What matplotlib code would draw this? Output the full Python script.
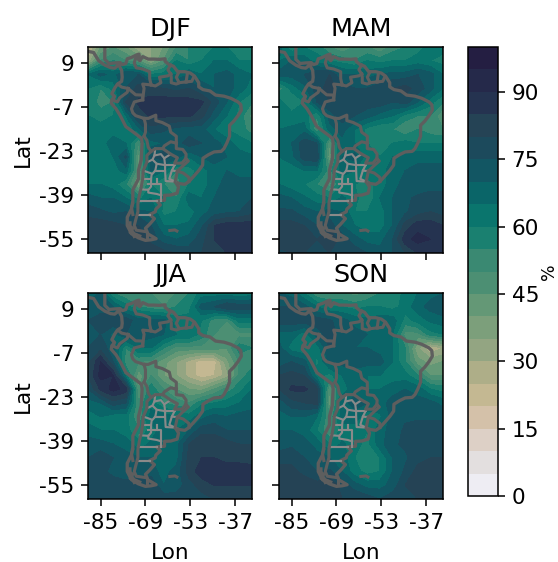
import numpy as np
from matplotlib import pyplot as plt

plt.rcParams['axes.unicode_minus'] = False
plt.rcParams['font.size'] = 11.2
plt.rcParams['axes.titlesize'] = 13.2

lons = [-89.5, -85, -80.5, -76, -71.5, -67, -62.5, -58, -53.5, -49, -44.5, -40, -35.5, -31]
lats = [15, 10, 5, 0, -5, -10, -15, -20, -25, -30, -35, -40, -45, -50, -55, -60]

djf = [
    [22, 40, 45, 40, 30, 35, 40, 50, 55, 60, 60, 60, 60, 60],
    [30, 50, 55, 50, 45, 35, 45, 60, 55, 60, 65, 65, 60, 60],
    [65, 72, 68, 75, 75, 60, 62, 65, 70, 65, 70, 72, 68, 65],
    [60, 55, 62, 75, 82, 82, 80, 78, 80, 75, 70, 72, 68, 62],
    [60, 52, 55, 80, 86, 87, 88, 88, 87, 86, 78, 70, 60, 55],
    [60, 58, 60, 65, 82, 86, 86, 86, 86, 82, 72, 65, 58, 48],
    [62, 62, 62, 60, 68, 78, 76, 73, 72, 72, 65, 60, 58, 52],
    [65, 62, 68, 65, 50, 68, 70, 72, 78, 75, 72, 68, 62, 60],
    [65, 62, 65, 76, 42, 75, 78, 72, 65, 70, 72, 70, 68, 66],
    [62, 62, 62, 68, 45, 70, 65, 55, 58, 62, 68, 70, 68, 68],
    [65, 65, 62, 55, 38, 60, 55, 52, 60, 62, 68, 72, 72, 72],
    [72, 70, 70, 65, 58, 65, 60, 55, 68, 65, 70, 72, 72, 75],
    [78, 76, 74, 75, 72, 70, 58, 60, 62, 68, 72, 74, 75, 78],
    [83, 83, 82, 80, 80, 75, 65, 65, 66, 74, 85, 88, 88, 88],
    [84, 84, 84, 82, 85, 78, 72, 70, 72, 78, 85, 90, 90, 88],
    [84, 84, 84, 84, 84, 84, 82, 80, 78, 80, 85, 85, 85, 85],
]
mam = [
    [68, 55, 60, 58, 50, 45, 50, 50, 45, 52, 55, 58, 62, 62],
    [65, 70, 68, 62, 60, 58, 55, 60, 58, 60, 60, 62, 60, 58],
    [72, 72, 75, 80, 80, 70, 70, 68, 70, 72, 72, 75, 72, 65],
    [52, 62, 68, 78, 82, 78, 75, 75, 78, 80, 82, 78, 72, 65],
    [62, 55, 60, 75, 80, 78, 78, 78, 78, 75, 78, 70, 62, 55],
    [62, 62, 62, 55, 72, 78, 75, 72, 68, 65, 58, 55, 55, 45],
    [65, 66, 68, 50, 68, 72, 65, 58, 55, 55, 50, 55, 52, 50],
    [66, 70, 78, 75, 45, 68, 65, 60, 58, 60, 62, 60, 60, 60],
    [65, 68, 78, 80, 40, 70, 72, 62, 60, 65, 66, 68, 68, 68],
    [62, 62, 65, 65, 52, 68, 65, 62, 62, 68, 70, 72, 72, 72],
    [65, 62, 60, 55, 48, 60, 60, 58, 62, 68, 72, 72, 72, 72],
    [72, 70, 66, 62, 60, 66, 62, 55, 65, 70, 74, 76, 78, 78],
    [76, 76, 72, 70, 72, 70, 60, 60, 62, 70, 74, 78, 80, 78],
    [82, 82, 80, 75, 78, 70, 65, 62, 62, 70, 82, 88, 88, 85],
    [84, 84, 84, 80, 84, 78, 72, 68, 68, 75, 88, 92, 90, 88],
    [78, 80, 80, 80, 80, 78, 78, 75, 72, 75, 80, 85, 85, 85],
]
jja = [
    [68, 70, 55, 50, 55, 50, 48, 50, 55, 62, 62, 62, 60, 62],
    [72, 72, 70, 62, 55, 52, 50, 55, 58, 72, 75, 80, 78, 78],
    [75, 78, 80, 78, 72, 72, 72, 62, 62, 60, 52, 50, 62, 62],
    [72, 75, 68, 75, 75, 72, 70, 65, 65, 58, 50, 48, 48, 48],
    [75, 78, 72, 55, 65, 65, 55, 48, 48, 48, 48, 45, 58, 55],
    [78, 90, 75, 52, 50, 48, 42, 35, 28, 22, 22, 38, 50, 52],
    [80, 92, 90, 62, 42, 50, 40, 35, 28, 22, 25, 32, 52, 58],
    [75, 86, 92, 88, 45, 58, 50, 45, 40, 38, 45, 52, 58, 65],
    [68, 70, 78, 75, 50, 62, 55, 52, 50, 58, 60, 62, 65, 68],
    [62, 65, 62, 62, 50, 68, 68, 65, 62, 68, 72, 70, 72, 72],
    [68, 65, 65, 62, 55, 62, 68, 65, 70, 78, 78, 75, 75, 75],
    [72, 72, 70, 68, 62, 66, 68, 68, 80, 85, 85, 82, 80, 80],
    [75, 78, 75, 72, 70, 70, 65, 68, 82, 85, 85, 82, 82, 82],
    [78, 78, 72, 70, 72, 72, 68, 72, 82, 88, 88, 90, 90, 88],
    [80, 80, 80, 78, 80, 80, 70, 72, 78, 82, 85, 85, 85, 85],
    [80, 80, 80, 80, 80, 80, 78, 78, 78, 78, 80, 80, 82, 82],
]
son = [
    [70, 68, 60, 50, 50, 50, 48, 50, 55, 55, 62, 65, 68, 70],
    [75, 75, 72, 65, 60, 60, 58, 60, 60, 58, 62, 68, 72, 74],
    [78, 78, 78, 78, 76, 72, 68, 66, 68, 68, 58, 62, 66, 68],
    [68, 68, 62, 72, 78, 72, 72, 70, 70, 65, 48, 48, 58, 60],
    [72, 62, 60, 62, 75, 70, 70, 70, 68, 65, 55, 35, 25, 30],
    [72, 75, 72, 58, 72, 72, 72, 72, 72, 65, 55, 42, 38, 40],
    [80, 82, 80, 62, 58, 65, 68, 65, 65, 62, 62, 55, 45, 45],
    [80, 86, 86, 82, 45, 62, 68, 65, 65, 68, 70, 68, 60, 58],
    [72, 78, 80, 82, 42, 68, 72, 70, 68, 72, 74, 72, 72, 68],
    [68, 70, 70, 65, 50, 68, 68, 62, 64, 72, 74, 74, 74, 74],
    [70, 70, 68, 60, 50, 62, 62, 60, 68, 72, 76, 78, 78, 78],
    [72, 74, 72, 68, 60, 66, 62, 58, 68, 74, 76, 78, 78, 80],
    [78, 78, 75, 72, 70, 68, 60, 55, 60, 70, 74, 78, 80, 80],
    [82, 82, 78, 75, 76, 70, 62, 58, 60, 70, 76, 82, 85, 85],
    [84, 84, 84, 82, 84, 78, 72, 68, 68, 72, 80, 85, 85, 82],
    [82, 82, 82, 80, 82, 80, 80, 78, 75, 78, 80, 80, 82, 82],
]
seasons = ['DJF', 'MAM', 'JJA', 'SON']
fields = [djf, mam, jja, son]

levels = list(range(0, 105, 5))
colors = ['#eeedf3', '#e3dfdf', '#ddd0c6', '#d4c1a9', '#c4b892', '#aeae88', '#93a582',
          '#7c9f7b', '#649876', '#4c8f73', '#3a8972', '#1a8070', '#0a756d', '#0a6568',
          '#125663', '#1c4a5c', '#254355', '#253350', '#25294a', '#241e42']

xticks = [-85, -69, -53, -37]
yticks = [9, -7, -23, -39, -55]
cbar_ticks = [0, 15, 30, 45, 60, 75, 90]

# coast and borders, rough lon/lat
coast = [(-89.5, 13.4), (-87.5, 13), (-85.7, 10), (-83.5, 8.4), (-81.5, 7.5), (-80, 7.3), (-78.5, 8.5),
         (-77.9, 7.2), (-77.5, 6.5), (-77.3, 4), (-77.5, 2.5), (-79, 1.5), (-80, 0), (-81, -2), (-80, -3),
         (-81, -4.2), (-81.2, -5.5), (-79.5, -7.5), (-78, -10), (-76, -14), (-72, -17), (-70.4, -18.3),
         (-70.2, -20), (-70.5, -26), (-71.5, -30), (-71.5, -33), (-73.5, -37), (-73.5, -41), (-74, -44),
         (-75.5, -47), (-75.5, -50), (-74, -53), (-71.5, -54.5), (-69, -55.4), (-67, -55.2), (-65.2, -54.8),
         (-68.2, -53), (-68.4, -52.3), (-69, -51), (-67.5, -49.5), (-65.8, -47.5), (-67.5, -46), (-65.5, -45),
         (-65.3, -44), (-63.7, -42.5), (-65, -41), (-62.2, -40.8), (-62.2, -39), (-60, -38.9), (-57.7, -38.2),
         (-57.2, -36), (-58.4, -34), (-57, -34.7), (-55, -35), (-53.5, -34), (-52, -32.3), (-50, -30),
         (-48.6, -28), (-48.5, -25.5), (-46.5, -24.2), (-44.5, -23.2), (-42, -23), (-41, -22), (-40, -20),
         (-39, -17.5), (-39, -13.5), (-37.5, -12), (-36, -10), (-34.8, -8), (-35, -6), (-36, -5), (-38.5, -3.7),
         (-41, -2.9), (-44, -2.5), (-46, -1), (-48.5, -0.5), (-50, 0.5), (-50, 2), (-51.5, 4.4), (-53, 5.5),
         (-55, 6), (-57.5, 6), (-59, 8), (-60.5, 8.5), (-62, 9.8), (-62, 10.7), (-64, 10.5), (-66, 10.6),
         (-68, 10.6), (-70, 11.5), (-71, 10), (-71.8, 10.8), (-71.5, 11), (-71.3, 12.4), (-72, 12.2),
         (-74, 11.2), (-75.5, 10.7), (-76, 9), (-77.2, 8.6), (-78, 9.3), (-80, 9.2), (-82, 9), (-83.5, 10.5),
         (-83.5, 12), (-83.5, 15)]
borders = [
    [(-67, -23), (-68.5, -24.5), (-68.5, -27), (-69.8, -30), (-70, -33), (-70.5, -36), (-71.2, -39), (-71.7, -42),
     (-71.7, -45), (-72.5, -48), (-73, -50), (-72.3, -51.7), (-69, -52.2)],
    [(-68.6, -52.6), (-68.6, -54.9)],
    [(-69.5, -17.5), (-68.5, -19), (-68, -21.5), (-67, -23)],
    [(-67, -23), (-65.5, -22), (-62.8, -22), (-62.3, -21), (-60, -19.5), (-58, -20)],
    [(-58, -20), (-58, -17.5), (-60, -16), (-60.5, -13.8), (-63, -12.5), (-65.3, -11.8), (-65.3, -9.8), (-68, -11),
     (-69.5, -11)],
    [(-69.5, -11), (-69, -13), (-69, -16), (-69.5, -17.5)],
    [(-69.5, -11), (-72.5, -10), (-73.5, -9), (-74, -7.5), (-73, -5), (-70, -4.2)],
    [(-70, -4.2), (-70, -2.5), (-72.5, -2.4), (-75.2, -0.1)],
    [(-75.2, -0.1), (-77.5, 0.4), (-78.8, 1.4)],
    [(-75.2, -0.1), (-75.5, -1.5), (-78.2, -3.5), (-79, -5), (-80.3, -4.5), (-80.3, -3.4)],
    [(-70, -4.2), (-69.5, 0), (-70, 1.5), (-67, 1.2)],
    [(-67, 1.2), (-67.5, 3.5), (-67.5, 6), (-70, 7), (-72.3, 7.4), (-73, 9.2), (-72.5, 11), (-71.3, 11.8)],
    [(-67, 1.2), (-65.5, 0.8), (-63.5, 2), (-64, 4), (-61, 4.5), (-60, 5.2)],
    [(-60, 5.2), (-61, 6.7), (-60, 8.5)],
    [(-60, 5.2), (-59.8, 4), (-59.8, 2), (-58, 1.5), (-57, 2)],
    [(-57, 2), (-58, 4), (-57, 6)],
    [(-57, 2), (-54.5, 2.3)],
    [(-54.5, 2.3), (-54, 5.7)],
    [(-54.5, 2.3), (-52.5, 2.5), (-51.7, 4.2)],
    [(-58, -20), (-58, -22), (-55.7, -22.3), (-54.5, -24), (-54.6, -25.6)],
    [(-62.8, -22), (-60, -24), (-57.6, -25.3), (-58.6, -27.3), (-56, -27.3), (-54.6, -25.6)],
    [(-54.6, -25.6), (-53.7, -26.5), (-55.7, -28.3), (-57.6, -30.2)],
    [(-57.6, -30.2), (-55.5, -30.9), (-53.5, -32.5), (-53.5, -34)],
    [(-57.6, -30.2), (-58.2, -33), (-58.4, -34)],
    [(-60.3, -51.8), (-58.5, -51.6), (-57.8, -52)],
    [(-74.5, -49), (-74.5, -51), (-73, -53), (-71, -53.8)],
    [(-75, -50), (-73.5, -51), (-74.5, -52.5), (-72, -53.5), (-73, -54)],
    [(-73.5, -42), (-74, -43.5), (-73.5, -46)],
]
provinces = [
    [(-65.5, -22), (-65.8, -24.5), (-66.5, -26), (-68.5, -27)],
    [(-65.8, -24.5), (-63.5, -24), (-62.3, -25.5), (-60, -24)],
    [(-66.5, -26), (-65, -27.5), (-65.5, -30), (-66.8, -31.5), (-67, -33), (-67, -35.8), (-68, -37), (-71, -36.8)],
    [(-65, -27.5), (-62, -28), (-62, -30), (-61.8, -33.8), (-58.4, -34)],
    [(-62.3, -25.5), (-62, -28)],
    [(-62, -28), (-58.6, -28), (-58.6, -27.3)],
    [(-58.6, -28), (-59.6, -30), (-57.6, -30.2)],
    [(-59.6, -30), (-60.5, -33), (-58.4, -34)],
    [(-65.5, -30), (-62, -30)],
    [(-65, -33), (-65, -35), (-63.4, -35), (-63.4, -41)],
    [(-69.8, -30), (-67, -31)],
    [(-70, -33), (-67, -33)],
    [(-68, -35), (-65, -35)],
    [(-68, -37), (-68, -38), (-65, -38.5), (-63.4, -39)],
    [(-71.5, -41), (-65, -41)],
    [(-71.7, -46), (-67.5, -46)],
]

W = 558
H = 562
fig = plt.figure(figsize=(W / 139, H / 139), dpi=139)
ax_boxes = [(88, 47), (279, 47), (88, 293), (279, 293)]

for i in range(4):
    x0, y0 = ax_boxes[i]
    ax = fig.add_axes([x0 / W, 1 - (y0 + 206) / H, 164 / W, 206 / H])
    cf = ax.contourf(lons, lats, np.array(fields[i]), levels=levels, colors=colors)
    line = np.array(coast)
    ax.plot(line[:, 0], line[:, 1], color='#5e5e5e', lw=1.7)
    for prov in provinces:
        line = np.array(prov)
        ax.plot(line[:, 0], line[:, 1], color='#8a8a8a', lw=1.1)
    for border in borders:
        line = np.array(border)
        ax.plot(line[:, 0], line[:, 1], color='#5e5e5e', lw=1.6)
    ax.set_xlim(-89.5, -31)
    ax.set_ylim(-60, 15)
    ax.set_xticks(xticks)
    ax.set_yticks(yticks)
    ax.set_title(seasons[i], pad=5.5)
    if i < 2:
        ax.set_xticklabels([])
    else:
        ax.set_xlabel('Lon', labelpad=5.5)
    if i % 2 == 1:
        ax.set_yticklabels([])
    else:
        ax.set_ylabel('Lat', labelpad=3.5)

cax = fig.add_axes([468 / W, 1 - 496 / H, 30 / W, 449 / H])
cbar = fig.colorbar(cf, cax=cax)
cbar.set_ticks(cbar_ticks)
cbar.set_label('%', fontsize=9, labelpad=0.5)

fig.savefig('out.png', dpi=139)
